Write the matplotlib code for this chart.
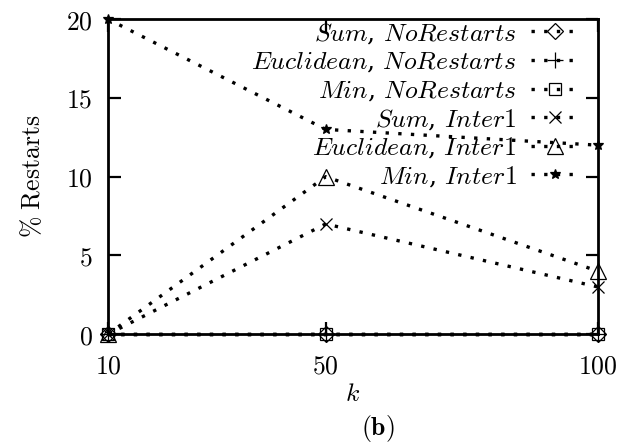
import matplotlib
matplotlib.use("Agg")
import matplotlib.pyplot as plt

plt.rcParams['mathtext.fontset'] = 'cm'
plt.rcParams['font.family'] = 'serif'
plt.rcParams['font.serif'] = ['DejaVu Serif']

k = [10, 50, 100]
sum_norestarts = [0, 0, 0]
euclid_norestarts = [0, 0, 0]
min_norestarts = [0, 0, 0]
sum_inter1 = [0, 7, 3]
euclid_inter1 = [0, 10, 4]
min_inter1 = [20, 13, 12]

# (values, legend text, marker, marker size)
series = [
    (sum_norestarts, r'$Sum$, $NoRestarts$', 'D', 8),
    (euclid_norestarts, r'$Euclidean$, $NoRestarts$', '+', 11),
    (min_norestarts, r'$Min$, $NoRestarts$', 's', 8),
    (sum_inter1, r'$Sum$, $Inter\mathit{1}$', 'x', 9),
    (euclid_inter1, r'$Euclidean$, $Inter\mathit{1}$', '^', 12),
    (min_inter1, r'$Min$, $Inter\mathit{1}$', '*', 7),
]

fig = plt.figure(figsize=(6.28, 4.45), dpi=100)
ax = fig.add_axes([0.172, 0.249, 0.780, 0.708])

for ys, label, m, ms in series:
    ax.plot(k, ys, color='black', lw=2.4, linestyle=(0, (1, 2.8)),
            dash_capstyle='butt', marker=m, markersize=ms,
            markerfacecolor='black' if m == '*' else 'none',
            markeredgecolor='black', markeredgewidth=0.9,
            label=label, clip_on=False, zorder=3)

ax.set_xlim(10, 100)
ax.set_ylim(0, 20)
ax.set_xticks(k)
ax.set_xticklabels([r'$\mathrm{%d}$' % v for v in k], fontsize=18.5)
yt = [0, 5, 10, 15, 20]
ax.set_yticks(yt)
ax.set_yticklabels([r'$\mathrm{%d}$' % v for v in yt], fontsize=18.5)
ax.tick_params(direction='in', length=9, width=1.6, top=True, right=True)
ax.tick_params(axis='x', pad=14)
ax.tick_params(axis='y', pad=11)
for s in ax.spines.values():
    s.set_linewidth(2)

ax.set_xlabel(r'$k$', fontsize=18.5)
ax.xaxis.set_label_coords(0.5, -0.15)
ax.set_ylabel(r'$\%\ \mathrm{Restarts}$', fontsize=18.5)
ax.yaxis.set_label_coords(-0.128, 0.5)
fig.text(0.602, 0.037, r'$(\mathbf{b})$', fontsize=18.5, ha='center', va='center')

ax.legend(loc='upper right', bbox_to_anchor=(0.965, 1.0), markerfirst=False,
          frameon=False, fontsize=18.5, handlelength=1.9, handletextpad=0.55,
          labelspacing=0.12, borderpad=0.05, borderaxespad=0.0)

fig.savefig('out.png', dpi=100)
